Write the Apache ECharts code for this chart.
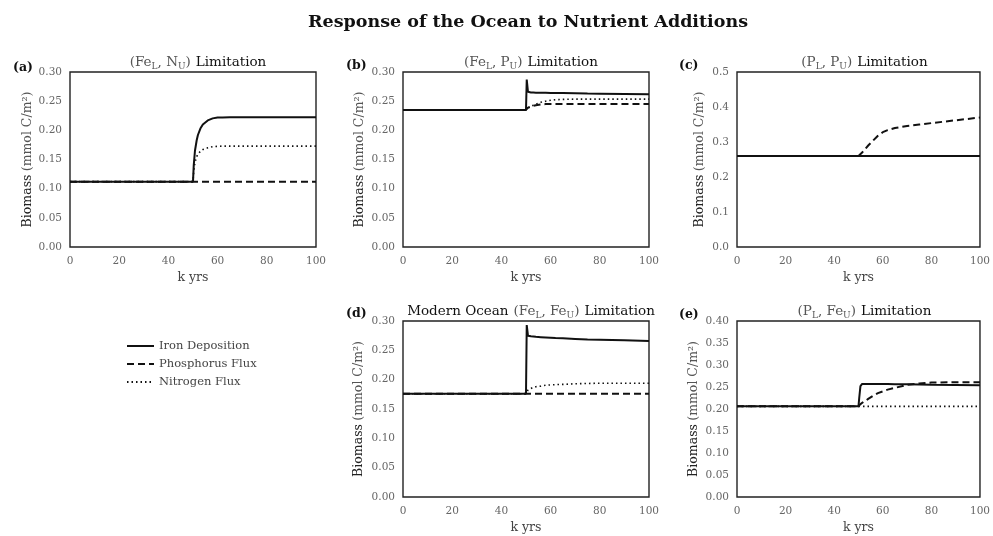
<!DOCTYPE html>
<html><head><meta charset="utf-8">
<script src="https://cdn.jsdelivr.net/npm/echarts@6/dist/echarts.min.js"></script>
<style>html,body{margin:0;padding:0;background:#fff}#c{width:993px;height:536px}</style>
</head><body><div id="c"></div>
<script>
// shared time axis (k yrs)
var T = [0, 50, 50.3, 50.8, 51.5, 52, 53, 54, 56, 58, 60, 62, 65, 70, 75, 80, 90, 100];
var xTicks = [0, 20, 40, 60, 80, 100];
var seriesNames = ['Iron Deposition', 'Phosphorus Flux', 'Nitrogen Flux'];

// (a) (Fe_L, N_U)
var a_iron = [0.112, 0.112, 0.140, 0.165, 0.183, 0.192, 0.203, 0.210, 0.217, 0.2205, 0.222, 0.2222, 0.2225, 0.2225, 0.2225, 0.2225, 0.2225, 0.2225];
var a_phos = [0.112, 0.112, 0.112, 0.112, 0.112, 0.112, 0.112, 0.112, 0.112, 0.112, 0.112, 0.112, 0.112, 0.112, 0.112, 0.112, 0.112, 0.112];
var a_nitr = [0.112, 0.112, 0.130, 0.145, 0.155, 0.159, 0.164, 0.167, 0.170, 0.172, 0.1725, 0.173, 0.173, 0.173, 0.173, 0.173, 0.173, 0.173];
// (b) (Fe_L, P_U)
var b_iron = [0.235, 0.235, 0.287, 0.266, 0.265, 0.265, 0.2648, 0.2646, 0.2645, 0.2644, 0.2642, 0.264, 0.2638, 0.2635, 0.263, 0.2628, 0.2624, 0.262];
var b_phos = [0.235, 0.235, 0.237, 0.239, 0.240, 0.241, 0.242, 0.243, 0.2445, 0.245, 0.245, 0.245, 0.245, 0.245, 0.245, 0.245, 0.245, 0.245];
var b_nitr = [0.235, 0.235, 0.236, 0.238, 0.240, 0.241, 0.243, 0.245, 0.248, 0.250, 0.2515, 0.2525, 0.253, 0.2535, 0.2535, 0.2535, 0.2535, 0.2535];
// (c) (P_L, P_U)
var c_iron = [0.26, 0.26, 0.26, 0.26, 0.26, 0.26, 0.26, 0.26, 0.26, 0.26, 0.26, 0.26, 0.26, 0.26, 0.26, 0.26, 0.26, 0.26];
var c_phos = [0.26, 0.26, 0.262, 0.265, 0.270, 0.275, 0.282, 0.290, 0.304, 0.318, 0.328, 0.334, 0.340, 0.346, 0.350, 0.354, 0.362, 0.370];
var c_nitr = [0.26, 0.26, 0.26, 0.26, 0.26, 0.26, 0.26, 0.26, 0.26, 0.26, 0.26, 0.26, 0.26, 0.26, 0.26, 0.26, 0.26, 0.26];
// (d) Modern Ocean (Fe_L, Fe_U)
var d_iron = [0.176, 0.176, 0.293, 0.275, 0.2745, 0.274, 0.2735, 0.273, 0.2725, 0.272, 0.2715, 0.271, 0.2705, 0.2695, 0.2685, 0.268, 0.267, 0.266];
var d_phos = [0.176, 0.176, 0.176, 0.176, 0.176, 0.176, 0.176, 0.176, 0.176, 0.176, 0.176, 0.176, 0.176, 0.176, 0.176, 0.176, 0.176, 0.176];
var d_nitr = [0.176, 0.176, 0.179, 0.182, 0.184, 0.185, 0.187, 0.188, 0.189, 0.1905, 0.191, 0.1915, 0.192, 0.193, 0.1935, 0.194, 0.194, 0.194];
// (e) (P_L, Fe_U)
var e_iron = [0.206, 0.206, 0.225, 0.252, 0.257, 0.257, 0.257, 0.257, 0.257, 0.257, 0.2568, 0.2566, 0.2563, 0.256, 0.2557, 0.2553, 0.2547, 0.254];
var e_phos = [0.206, 0.206, 0.208, 0.211, 0.214, 0.216, 0.219, 0.223, 0.230, 0.236, 0.240, 0.244, 0.248, 0.255, 0.258, 0.260, 0.261, 0.261];
var e_nitr = [0.206, 0.206, 0.206, 0.206, 0.206, 0.206, 0.206, 0.206, 0.206, 0.206, 0.206, 0.206, 0.206, 0.206, 0.206, 0.206, 0.206, 0.206];

var panels = [
  {label: '(a)', title: '{m|(Fe}{s|L}{m|, N}{s|U}{m|)} {b|Limitation}', data: [a_iron, a_phos, a_nitr],
   grid: {left: 70, top: 72, width: 246, height: 175}, ymax: 0.30, yint: 0.05, dec: 2, nameGap: 36, labelX: 8, labelY: 56, titleY: 48},
  {label: '(b)', title: '{m|(Fe}{s|L}{m|, P}{s|U}{m|)} {b|Limitation}', data: [b_iron, b_phos, b_nitr],
   grid: {left: 403, top: 72, width: 246, height: 175}, ymax: 0.30, yint: 0.05, dec: 2, nameGap: 37, labelX: 341, labelY: 54, titleY: 48},
  {label: '(c)', title: '{m|(P}{s|L}{m|, P}{s|U}{m|)} {b|Limitation}', data: [c_iron, c_phos, c_nitr],
   grid: {left: 737, top: 72, width: 245, height: 175}, ymax: 0.5, yint: 0.1, dec: 1, nameGap: 31, labelX: 674, labelY: 54, titleY: 48},
  {label: '(d)', title: '{b|Modern Ocean} {m|(Fe}{s|L}{m|, Fe}{s|U}{m|)} {b|Limitation}', data: [d_iron, d_phos, d_nitr],
   grid: {left: 403, top: 321, width: 246, height: 176}, ymax: 0.30, yint: 0.05, dec: 2, nameGap: 38, labelX: 341, labelY: 302, titleY: 297},
  {label: '(e)', title: '{m|(P}{s|L}{m|, Fe}{s|U}{m|)} {b|Limitation}', data: [e_iron, e_phos, e_nitr],
   grid: {left: 737, top: 321, width: 245, height: 176}, ymax: 0.40, yint: 0.05, dec: 2, nameGap: 37, labelX: 674, labelY: 303, titleY: 297}
];

var FONT = 'DejaVu Serif';
var styles = [
  {type: 'solid', width: 2},
  {type: [7, 4], width: 2},
  {type: [1.5, 3], width: 1.6}
];

var grids = [], xAxes = [], yAxes = [], series = [];
var titles = [{
  text: 'Response of the Ocean to Nutrient Additions',
  left: 523, top: 8, textAlign: 'center',
  textStyle: {fontFamily: FONT, fontWeight: 'bold', fontSize: 17.5, color: '#111'}
}];
var richT = {
  m: {fontFamily: FONT, fontWeight: 'normal', fontSize: 13.5, color: '#555', lineHeight: 16},
  s: {fontFamily: FONT, fontWeight: 'normal', fontSize: 9, color: '#555', verticalAlign: 'bottom', lineHeight: 9},
  b: {fontFamily: FONT, fontWeight: 'normal', fontSize: 13.5, color: '#111', lineHeight: 16}
};
panels.forEach(function (p, i) {
  var g = Object.assign({show: true, borderColor: '#222', borderWidth: 1.4, backgroundColor: '#fff', containLabel: false}, p.grid);
  grids.push(g);
  titles.push({
    text: p.title, left: p.grid.left + p.grid.width / 2, top: p.titleY, textAlign: 'center',
    textStyle: {fontWeight: 'normal', rich: richT}
  });
  titles.push({
    text: p.label, left: p.labelX, top: p.labelY,
    textStyle: {fontFamily: FONT, fontWeight: 'bold', fontSize: 12.5, color: '#111'}
  });
  xAxes.push({
    gridIndex: i, type: 'value', min: 0, max: 100, interval: 20,
    name: 'k yrs', nameLocation: 'middle', nameGap: 24,
    nameTextStyle: {fontFamily: FONT, fontSize: 12.5, color: '#444'},
    axisLine: {show: false}, axisTick: {show: false}, splitLine: {show: false},
    axisLabel: {fontFamily: FONT, fontSize: 10.5, color: '#666', margin: 9}
  });
  yAxes.push({
    gridIndex: i, type: 'value', min: 0, max: p.ymax, interval: p.yint,
    name: '{b|Biomass} {m|(mmol C/m²)}', nameLocation: 'middle', nameGap: p.nameGap,
    nameTextStyle: {rich: {
      b: {fontFamily: FONT, fontSize: 12.5, color: '#222'},
      m: {fontFamily: FONT, fontSize: 12.5, color: '#555'}
    }},
    axisLine: {show: false}, axisTick: {show: false}, splitLine: {show: false},
    axisLabel: {fontFamily: FONT, fontSize: 10.5, color: '#666', margin: 8,
      formatter: (function (d) { return function (v) { return v.toFixed(d); }; })(p.dec)}
  });
  p.data.forEach(function (vals, k) {
    series.push({
      name: seriesNames[k], type: 'line', xAxisIndex: i, yAxisIndex: i,
      data: T.map(function (t, j) { return [t, vals[j]]; }),
      showSymbol: false, symbol: 'none', animation: false, silent: true, z: 3 - k,
      itemStyle: {color: '#111', opacity: 0},
      lineStyle: {color: '#111', width: styles[k].width, type: styles[k].type}
    });
  });
});

var chart = echarts.init(document.getElementById('c'), null, {renderer: 'canvas'});
chart.setOption({
  backgroundColor: '#fff',
  animation: false,
  title: titles,
  legend: {
    data: seriesNames, orient: 'vertical', left: 121, top: 335,
    itemWidth: 27, itemHeight: 12, itemGap: 6,
    itemStyle: {opacity: 0},
    textStyle: {fontFamily: FONT, fontSize: 11.5, color: '#444'},
    selectedMode: false
  },
  grid: grids, xAxis: xAxes, yAxis: yAxes, series: series
});
</script></body></html>
